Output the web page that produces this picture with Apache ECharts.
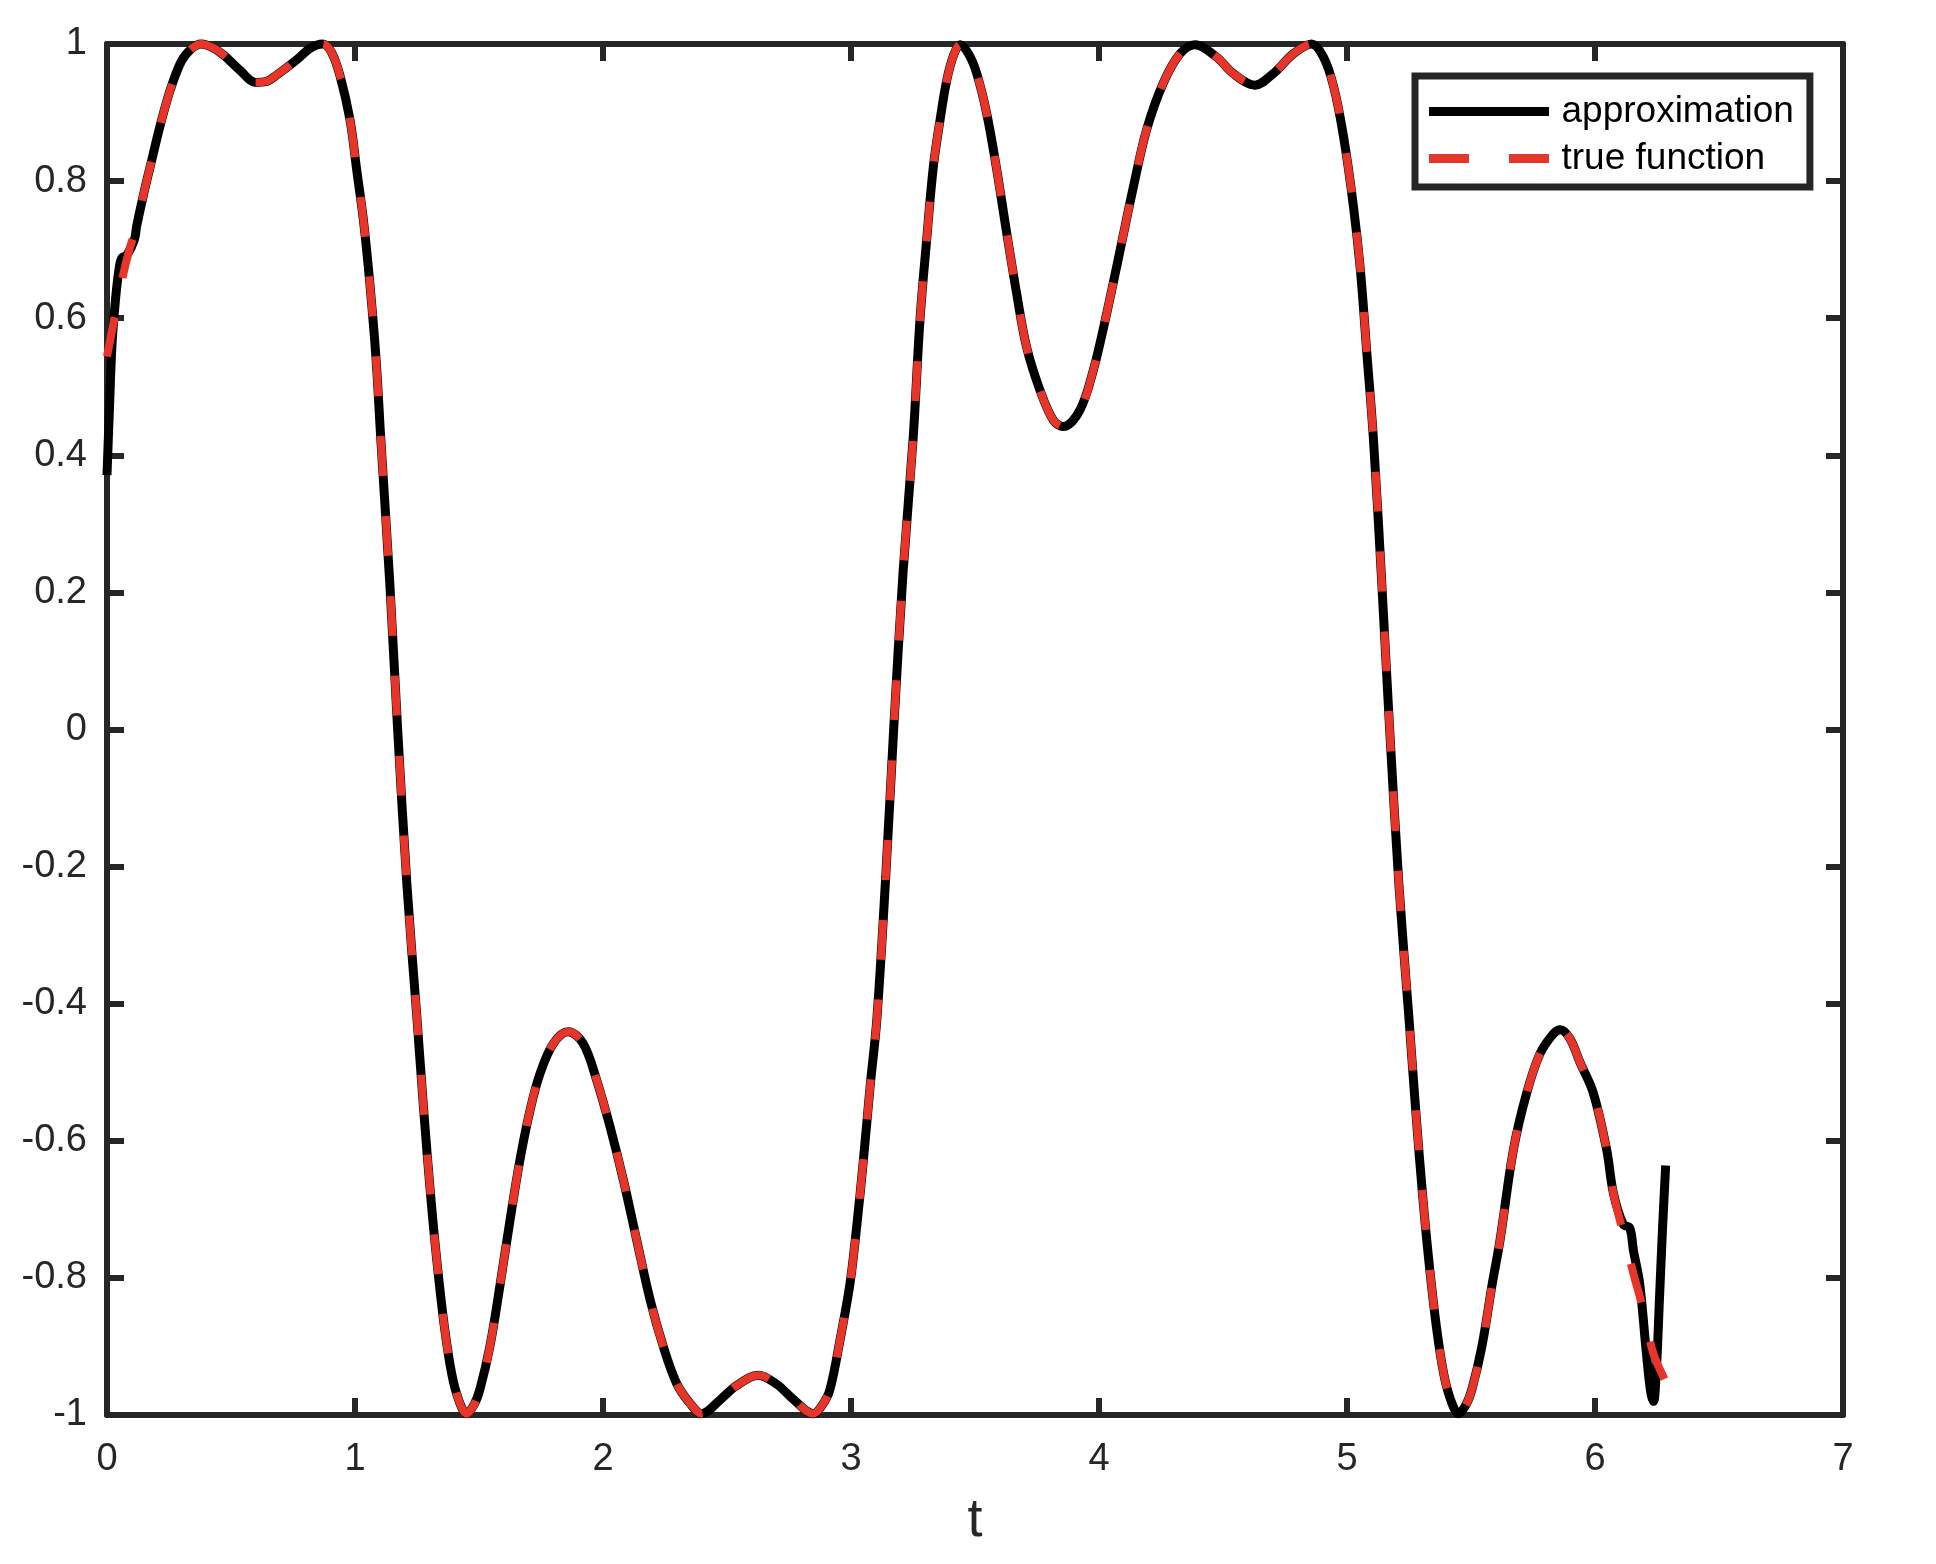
<!DOCTYPE html>
<html>
<head>
<meta charset="utf-8">
<script src="https://cdn.jsdelivr.net/npm/echarts@6/dist/echarts.min.js"></script>
<style>
html,body{margin:0;padding:0;background:#fff;}
#chart{width:1936px;height:1564px;}
</style>
</head>
<body>
<div id="chart"></div>
<script>
// ---- data ----
const xRange = [0, 7];
const yRange = [-1, 1];
const xLabelText = 't';
const seriesNames = ['approximation', 'true function'];

const tTrue = [0.000,0.030,0.060,0.090,0.120,0.150,0.180,0.215,0.255,0.300,0.340,0.380,0.425,0.470,0.535,0.600,0.640,0.685,0.765,0.820,0.870,0.905,0.940,0.980,1.007,1.034,1.060,1.085,1.104,1.140,1.172,1.210,1.251,1.278,1.305,1.330,1.360,1.390,1.420,1.450,1.480,1.504,1.544,1.585,1.625,1.665,1.706,1.746,1.800,1.860,1.920,1.974,2.028,2.082,2.136,2.190,2.243,2.297,2.351,2.398,2.472,2.539,2.626,2.700,2.767,2.848,2.885,2.915,2.956,2.996,3.023,3.050,3.077,3.104,3.140,3.172,3.210,3.251,3.278,3.305,3.332,3.359,3.386,3.415,3.440,3.475,3.507,3.547,3.588,3.628,3.668,3.708,3.762,3.816,3.856,3.923,3.977,4.031,4.085,4.139,4.192,4.259,4.327,4.387,4.474,4.541,4.629,4.703,4.784,4.857,4.905,4.946,4.986,5.026,5.054,5.080,5.106,5.140,5.172,5.210,5.251,5.278,5.305,5.330,5.360,5.390,5.420,5.450,5.480,5.504,5.544,5.585,5.617,5.671,5.724,5.778,5.832,5.860,5.899,5.940,5.993,6.047,6.074,6.114,6.155,6.195,6.235,6.285];
const yTrue = [0.544,0.600,0.655,0.700,0.735,0.785,0.830,0.882,0.933,0.975,0.993,1.000,0.995,0.984,0.962,0.944,0.945,0.955,0.977,0.994,1.000,0.988,0.953,0.889,0.816,0.743,0.650,0.540,0.424,0.215,0.000,-0.230,-0.427,-0.560,-0.680,-0.775,-0.870,-0.940,-0.980,-0.998,-0.985,-0.962,-0.900,-0.810,-0.716,-0.628,-0.555,-0.502,-0.458,-0.441,-0.458,-0.511,-0.579,-0.657,-0.745,-0.832,-0.900,-0.954,-0.983,-0.998,-0.978,-0.957,-0.942,-0.955,-0.977,-0.998,-0.985,-0.963,-0.890,-0.808,-0.725,-0.628,-0.521,-0.424,-0.215,0.000,0.230,0.427,0.597,0.714,0.821,0.889,0.947,0.985,0.999,0.985,0.957,0.899,0.816,0.724,0.636,0.558,0.495,0.451,0.442,0.466,0.524,0.607,0.699,0.792,0.875,0.943,0.986,0.999,0.981,0.957,0.940,0.957,0.986,1.000,0.981,0.938,0.865,0.763,0.670,0.549,0.427,0.215,0.000,-0.230,-0.427,-0.560,-0.680,-0.775,-0.870,-0.940,-0.980,-0.998,-0.985,-0.962,-0.900,-0.810,-0.745,-0.613,-0.531,-0.473,-0.444,-0.438,-0.451,-0.486,-0.530,-0.613,-0.676,-0.735,-0.794,-0.847,-0.910,-0.951];

// approximation: deviates from the true function near both ends
const tApproxHead = [0.000,0.010,0.020,0.035,0.050,0.060,0.080,0.110];
const yApproxHead = [0.371,0.470,0.560,0.630,0.675,0.688,0.692,0.714];
const tApproxTail = [6.114,6.140,6.155,6.180,6.206,6.224,6.236,6.248,6.260,6.272,6.285];
const yApproxTail = [-0.722,-0.727,-0.760,-0.808,-0.905,-0.965,-0.980,-0.930,-0.830,-0.730,-0.636];

// ---- build series ----
function pairs(ts, ys){ return ts.map((t,i)=>[t, ys[i]]); }
const trueData = pairs(tTrue, yTrue);
const approxData = pairs(tApproxHead, yApproxHead)
  .concat(trueData.filter(p => p[0] > tApproxHead[tApproxHead.length-1] && p[0] < tApproxTail[0]))
  .concat(pairs(tApproxTail, yApproxTail));

const AX = '#262626';
const FONT = 'Liberation Sans, Arial, Helvetica, sans-serif';
const RED = '#E8352A';

function axisCommon(showLabel, margin){
  return {
    axisLine: {show:true, onZero:false, lineStyle:{color:AX, width:6}},
    axisTick: {show:true, inside:true, length:17, lineStyle:{color:AX, width:6}},
    splitLine: {show:false},
    axisLabel: showLabel ? {show:true, color:AX, fontSize:38, fontFamily:FONT, margin:margin} : {show:false}
  };
}

const chart = echarts.init(document.getElementById('chart'), null, {renderer:'canvas'});
chart.setOption({
  backgroundColor:'#ffffff',
  animation:false,
  grid:{left:107, right:93, top:44, bottom:149, containLabel:false},
  xAxis:[
    Object.assign({type:'value', position:'bottom', min:xRange[0], max:xRange[1], interval:1,
      name:xLabelText, nameLocation:'middle', nameGap:79,
      nameTextStyle:{fontSize:54, color:AX, fontFamily:FONT}}, axisCommon(true, 26)),
    Object.assign({type:'value', position:'top', min:xRange[0], max:xRange[1], interval:1}, axisCommon(false))
  ],
  yAxis:[
    Object.assign({type:'value', position:'left', min:yRange[0], max:yRange[1], interval:0.2}, axisCommon(true, 20)),
    Object.assign({type:'value', position:'right', min:yRange[0], max:yRange[1], interval:0.2}, axisCommon(false))
  ],
  legend:{
    left:1415, top:76, orient:'vertical',
    backgroundColor:'#ffffff', borderColor:AX, borderWidth:7,
    padding:[17,16,10,14],
    itemWidth:121, itemHeight:9, itemGap:10,
    textStyle:{fontSize:37, color:'#000', fontFamily:FONT, padding:[0,0,0,7], lineHeight:36},
    data:[
      {name:seriesNames[0], icon:'path://M0,0H120V9H0Z'},
      {name:seriesNames[1], icon:'path://M0,0H40V9H0Z M80,0H120V9H80Z'}
    ]
  },
  series:[
    {name:seriesNames[0], type:'line', data:approxData, showSymbol:false, symbol:'none',
     smooth:0.35, clip:false, z:3,
     lineStyle:{color:'#000000', width:9}, itemStyle:{color:'#000000'}},
    {name:seriesNames[1], type:'line', data:trueData, showSymbol:false, symbol:'none',
     smooth:0.35, clip:false, z:4,
     lineStyle:{color:RED, width:8, type:[40,40]}, itemStyle:{color:RED}}
  ]
});
</script>
</body>
</html>
